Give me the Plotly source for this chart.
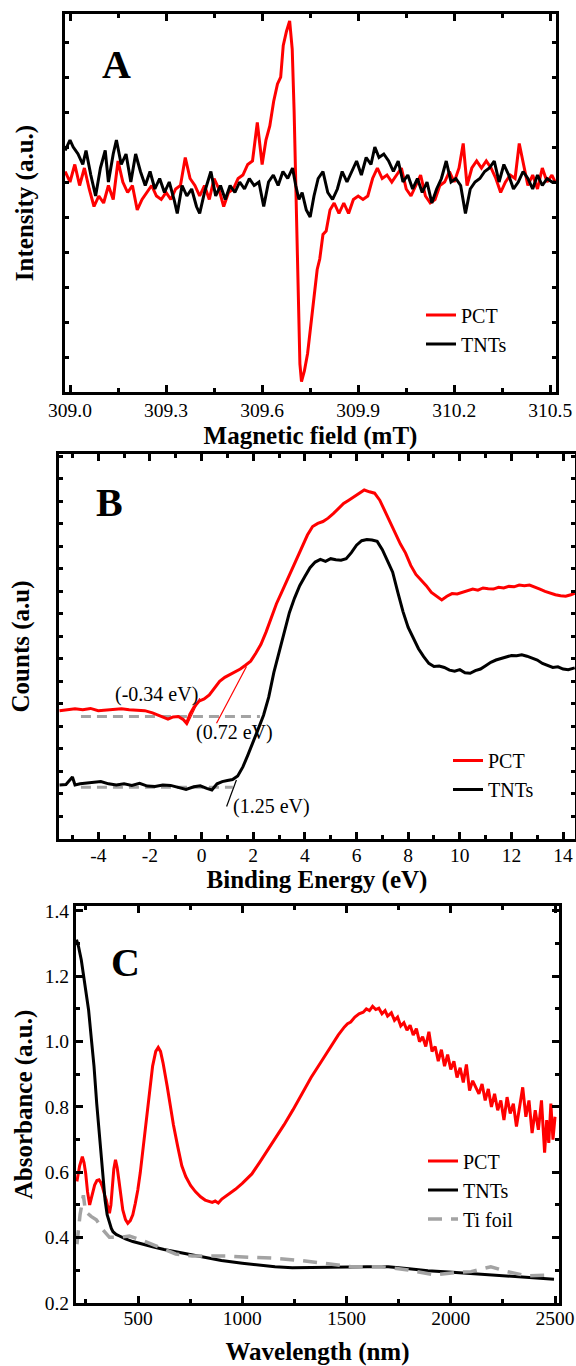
import plotly.graph_objects as go

# ---------------- Panel A : EPR ----------------
epr_pct_field = [308.985, 309.000, 309.015, 309.030, 309.045, 309.060, 309.075, 309.090, 309.105, 309.120,
                 309.135, 309.150, 309.165, 309.180, 309.195, 309.210, 309.225, 309.240, 309.255, 309.270,
                 309.285, 309.300, 309.315, 309.330, 309.345, 309.360, 309.375, 309.390, 309.405, 309.420,
                 309.435, 309.450, 309.465, 309.480, 309.495, 309.510, 309.525, 309.540, 309.555, 309.570,
                 309.585, 309.600, 309.612, 309.624, 309.636, 309.648, 309.658, 309.666, 309.676, 309.686,
                 309.694, 309.700, 309.706, 309.712, 309.718, 309.723, 309.732, 309.742, 309.752, 309.762,
                 309.772, 309.780, 309.790, 309.800, 309.812, 309.825, 309.840, 309.855, 309.870, 309.885,
                 309.900, 309.915, 309.930, 309.945, 309.960, 309.975, 309.990, 310.005, 310.020, 310.035,
                 310.050, 310.065, 310.080, 310.095, 310.110, 310.125, 310.140, 310.155, 310.170, 310.185,
                 310.200, 310.215, 310.228, 310.240, 310.255, 310.270, 310.285, 310.300, 310.315, 310.330,
                 310.345, 310.360, 310.375, 310.390, 310.403, 310.415, 310.430, 310.445, 310.460, 310.475,
                 310.490, 310.505, 310.515]
epr_pct_int = [6.3, 6.0, 6.5, 5.9, 6.4, 5.8, 5.3, 5.6, 5.4, 5.9,
               5.5, 6.6, 6.0, 5.7, 5.9, 5.2, 5.5, 5.7, 5.9, 5.6,
               5.5, 5.7, 5.5, 5.8, 5.9, 6.7, 6.1, 5.9, 5.6, 5.9,
               5.5, 6.1, 5.8, 5.3, 5.7, 5.8, 6.1, 6.2, 6.5, 6.6,
               7.7, 6.5, 7.2, 7.6, 8.3, 8.8, 9.0, 9.9, 10.3, 10.6,
               9.8, 8.0, 5.5, 2.5, 0.8, 0.3, 0.6, 1.1, 2.0, 2.7,
               3.5, 3.8, 4.5, 4.6, 5.2, 5.4, 5.1, 5.4, 5.1, 5.5,
               5.6, 5.5, 5.6, 6.1, 6.4, 6.1, 6.2, 6.0, 6.2, 6.4,
               5.8, 5.6, 5.9, 6.2, 5.6, 5.4, 5.5, 5.9, 6.0, 6.3,
               6.0, 6.4, 7.1, 5.9, 6.4, 6.6, 6.4, 6.6, 6.4, 6.1,
               5.7, 6.0, 6.2, 6.1, 7.1, 6.6, 5.9, 6.2, 5.8, 6.4,
               6.0, 6.2, 6.0]

epr_tnt_field = [308.985, 309.000, 309.010, 309.025, 309.040, 309.050, 309.065, 309.080, 309.095, 309.110,
                 309.120, 309.135, 309.145, 309.160, 309.175, 309.190, 309.205, 309.220, 309.235, 309.250,
                 309.265, 309.280, 309.295, 309.310, 309.325, 309.335, 309.350, 309.365, 309.380, 309.395,
                 309.405, 309.420, 309.440, 309.455, 309.470, 309.485, 309.500, 309.515, 309.530, 309.545,
                 309.560, 309.575, 309.590, 309.605, 309.620, 309.635, 309.650, 309.665, 309.680, 309.695,
                 309.705, 309.715, 309.725, 309.738, 309.750, 309.762, 309.775, 309.790, 309.805, 309.820,
                 309.835, 309.850, 309.865, 309.880, 309.895, 309.910, 309.925, 309.940, 309.952, 309.965,
                 309.980, 309.995, 310.010, 310.025, 310.040, 310.055, 310.070, 310.085, 310.100, 310.115,
                 310.130, 310.145, 310.160, 310.175, 310.190, 310.205, 310.220, 310.235, 310.250, 310.265,
                 310.280, 310.295, 310.310, 310.325, 310.340, 310.355, 310.370, 310.385, 310.400, 310.415,
                 310.430, 310.445, 310.460, 310.475, 310.490, 310.505, 310.515]
epr_tnt_int = [6.9, 7.2, 7.0, 6.8, 6.5, 6.9, 6.2, 5.6, 6.4, 6.9,
               6.0, 6.8, 7.2, 6.5, 6.8, 6.0, 6.8, 6.3, 5.9, 6.3,
               5.8, 6.1, 5.7, 6.0, 5.5, 5.1, 5.9, 5.6, 5.8, 5.3,
               5.1, 5.7, 6.3, 5.6, 5.9, 5.5, 5.9, 5.7, 6.0, 5.8,
               6.1, 5.9, 6.0, 5.3, 6.0, 6.2, 5.9, 6.3, 6.1, 6.4,
               5.9, 5.5, 5.7, 5.2, 5.0, 5.6, 6.1, 6.3, 5.7, 5.5,
               5.8, 6.3, 6.0, 6.3, 6.6, 6.2, 6.7, 6.5, 7.0, 6.7,
               6.8, 6.6, 6.3, 6.6, 6.0, 6.2, 5.8, 6.1, 5.7, 6.0,
               5.4, 5.8, 6.1, 6.6, 6.0, 6.1, 5.9, 5.1, 5.8, 6.0,
               6.1, 6.3, 6.4, 6.6, 6.0, 6.5, 6.2, 5.8, 6.0, 6.3,
               6.1, 5.8, 6.2, 5.9, 6.1, 6.0, 6.0]

# ---------------- Panel B : VB-XPS ----------------
xps_pct_be = [-5.5, -5.2, -4.9, -4.6, -4.3, -4.0, -3.7, -3.4, -3.1, -2.8, -2.5, -2.2, -1.9, -1.6, -1.3,
              -1.1, -0.9, -0.7, -0.58, -0.45, -0.3, -0.1, 0.1, 0.3, 0.5, 0.7, 0.9, 1.1, 1.3, 1.5, 1.7,
              1.9, 2.1, 2.3, 2.5, 2.7, 2.9, 3.1, 3.3, 3.5, 3.7, 3.9, 4.1, 4.3, 4.5, 4.7, 4.9, 5.1, 5.3,
              5.5, 5.7, 5.9, 6.1, 6.3, 6.5, 6.7, 6.9, 7.1, 7.3, 7.5, 7.7, 7.9, 8.1, 8.3, 8.5, 8.7, 8.9,
              9.1, 9.3, 9.5, 9.7, 9.9, 10.1, 10.3, 10.5, 10.7, 10.9, 11.1, 11.3, 11.5, 11.7, 11.9, 12.1,
              12.3, 12.5, 12.7, 12.9, 13.1, 13.3, 13.5, 13.7, 13.9, 14.1, 14.3, 14.45]
xps_pct_counts = [5.70, 5.75, 5.78, 5.74, 5.80, 5.70, 5.72, 5.75, 5.78, 5.74, 5.72, 5.70, 5.60, 5.46, 5.32,
                  5.42, 5.44, 5.30, 5.14, 5.55, 5.85, 6.12, 6.22, 6.40, 6.70, 7.00, 7.18, 7.30, 7.40, 7.55, 7.72,
                  7.90, 8.25, 8.65, 9.20, 9.85, 10.45, 10.95, 11.45, 11.95, 12.45, 13.00, 13.50, 13.88, 14.02, 14.10, 14.25, 14.45, 14.70,
                  14.90, 15.05, 15.20, 15.33, 15.50, 15.42, 15.36, 15.05, 14.55, 14.05, 13.55, 13.10, 12.70, 12.15, 11.75, 11.50, 11.25, 10.95,
                  10.80, 10.62, 10.78, 10.90, 10.88, 10.95, 11.05, 11.10, 11.05, 11.15, 11.12, 11.10, 11.18, 11.15, 11.22, 11.20,
                  11.28, 11.25, 11.28, 11.20, 11.10, 11.00, 10.92, 10.85, 10.80, 10.78, 10.85, 10.92]

xps_tnt_be = [-5.5, -5.25, -5.0, -4.9, -4.7, -4.4, -4.1, -3.9, -3.6, -3.3, -3.0, -2.7, -2.4, -2.1, -1.8,
              -1.5, -1.2, -0.9, -0.6, -0.3, -0.05, 0.2, 0.4, 0.6, 0.8, 1.0, 1.2, 1.4, 1.6, 1.8, 2.0,
              2.2, 2.4, 2.6, 2.8, 3.0, 3.2, 3.4, 3.6, 3.8, 4.0, 4.2, 4.4, 4.6, 4.8, 5.0, 5.2, 5.4,
              5.6, 5.8, 6.0, 6.2, 6.4, 6.6, 6.8, 7.0, 7.2, 7.4, 7.6, 7.8, 8.0, 8.2, 8.4, 8.6, 8.8,
              9.0, 9.2, 9.4, 9.6, 9.8, 10.0, 10.2, 10.4, 10.6, 10.8, 11.0, 11.2, 11.4, 11.6, 11.8,
              12.0, 12.2, 12.4, 12.6, 12.8, 13.0, 13.2, 13.4, 13.6, 13.8, 14.0, 14.2, 14.45]
xps_tnt_counts = [2.40, 2.42, 2.75, 2.40, 2.45, 2.48, 2.52, 2.55, 2.45, 2.40, 2.45, 2.38, 2.47, 2.35, 2.33,
                  2.40, 2.38, 2.30, 2.20, 2.32, 2.36, 2.25, 2.18, 2.45, 2.55, 2.60, 2.64, 2.80, 3.20, 3.75, 4.30,
                  4.90, 5.50, 6.30, 7.40, 8.25, 9.20, 10.05, 10.70, 11.25, 11.66, 12.05, 12.30, 12.42, 12.33, 12.45, 12.40, 12.38,
                  12.45, 12.72, 13.05, 13.25, 13.30, 13.28, 13.22, 12.85, 12.35, 11.85, 10.95, 10.10, 9.40, 8.90, 8.45, 8.10, 7.80,
                  7.66, 7.68, 7.62, 7.50, 7.45, 7.52, 7.38, 7.36, 7.48, 7.55, 7.70, 7.85, 7.95, 8.02, 8.10,
                  8.15, 8.14, 8.18, 8.12, 8.05, 7.95, 7.80, 7.70, 7.62, 7.65, 7.55, 7.52, 7.60]

# baselines and leading-edge tangents (eV, counts)
base_pct_be = [-4.67, 2.26]
base_pct_counts = [5.44, 5.44]
base_tnt_be = [-4.67, 1.21]
base_tnt_counts = [2.30, 2.30]
tan_pct1_be = [-0.56, -0.07]
tan_pct1_counts = [5.07, 6.25]
tan_pct2_be = [0.58, 1.74]
tan_pct2_counts = [5.14, 7.66]
tan_tnt_be = [0.97, 1.35]
tan_tnt_counts = [1.44, 2.62]

edge_labels = ["(-0.34 eV)", "(0.72 eV)", "(1.25 eV)"]
edge_label_be = [-1.74, 1.29, 2.72]
edge_label_counts = [6.40, 4.72, 1.44]

xps_tickvals = [-4, -2, 0, 2, 4, 6, 8, 10, 12, 14]
xps_ticktext = ["-4", "-2", "0", "2", "4", "6", "8", "10", "12", "14"]

# ---------------- Panel C : UV-Vis-NIR ----------------
uv_pct_wl = [207, 220, 233, 241, 249, 258, 268, 280, 292, 303, 313, 322, 329, 340, 348, 356, 363, 370, 376,
             384, 392, 400, 408, 418, 427, 440, 451, 463, 475, 487, 499, 511, 522, 540, 555, 570, 585, 597,
             608, 620, 640, 655, 670, 690, 710, 729, 752, 775, 800, 822, 840, 856, 870, 885, 902, 930, 967,
             1000, 1046, 1085, 1124, 1160, 1200, 1243, 1290, 1330, 1380, 1419, 1460, 1490, 1505, 1520, 1540,
             1560, 1580, 1595, 1610, 1625, 1640, 1655, 1670, 1685, 1697, 1715, 1730, 1745, 1760, 1775, 1790,
             1805, 1820, 1835, 1850, 1865, 1880, 1895, 1910, 1925, 1940, 1955, 1970, 1985, 2000, 2015, 2030,
             2045, 2060, 2075, 2090, 2105, 2120, 2135, 2150, 2165, 2180, 2195, 2210, 2225, 2240, 2255, 2270,
             2285, 2300, 2315, 2330, 2345, 2360, 2375, 2390, 2405, 2420, 2435, 2450, 2460, 2470, 2480, 2490, 2500]
uv_pct_abs = [0.572, 0.620, 0.648, 0.630, 0.597, 0.540, 0.500, 0.530, 0.561, 0.575, 0.577, 0.568, 0.556, 0.530, 0.515, 0.490, 0.475, 0.500, 0.546,
              0.610, 0.638, 0.615, 0.577, 0.520, 0.485, 0.455, 0.444, 0.452, 0.470, 0.505, 0.546, 0.600, 0.660, 0.760, 0.850, 0.925, 0.970, 0.982,
              0.970, 0.935, 0.863, 0.800, 0.745, 0.680, 0.620, 0.587, 0.560, 0.541, 0.525, 0.515, 0.510, 0.508, 0.512, 0.506, 0.518, 0.530, 0.548,
              0.566, 0.595, 0.632, 0.669, 0.705, 0.745, 0.791, 0.843, 0.890, 0.940, 0.980, 1.020, 1.045, 1.055, 1.060, 1.075,
              1.085, 1.090, 1.100, 1.095, 1.108, 1.098, 1.102, 1.085, 1.095, 1.078, 1.088, 1.065, 1.075, 1.048, 1.058, 1.035,
              1.050, 1.020, 1.040, 1.000, 1.015, 0.985, 1.030, 0.970, 0.985, 0.940, 0.975, 0.925, 0.960, 0.915, 0.940, 0.890,
              0.920, 0.875, 0.930, 0.850, 0.880, 0.860, 0.840, 0.870, 0.820, 0.855, 0.800, 0.840, 0.790, 0.820, 0.760, 0.830,
              0.780, 0.810, 0.740, 0.800, 0.860, 0.770, 0.820, 0.720, 0.790, 0.730, 0.820, 0.660, 0.760, 0.690, 0.810, 0.700, 0.770]

uv_tnt_wl = [205, 215, 228, 245, 263, 276, 289, 302, 316, 330, 342, 352, 363, 372, 380, 395, 411, 440, 475,
             520, 570, 625, 681, 720, 760, 800, 840, 900, 1000, 1080, 1157, 1240, 1316, 1400, 1510, 1600,
             1700, 1800, 1890, 1990, 2081, 2180, 2271, 2380, 2495]
uv_tnt_abs = [1.312, 1.290, 1.250, 1.180, 1.097, 1.010, 0.924, 0.810, 0.700, 0.600, 0.515, 0.470, 0.444, 0.428, 0.418, 0.410, 0.405, 0.396, 0.388,
              0.380, 0.372, 0.364, 0.357, 0.352, 0.347, 0.342, 0.337, 0.330, 0.322, 0.316, 0.311, 0.308, 0.308, 0.309, 0.310, 0.311,
              0.311, 0.305, 0.299, 0.295, 0.291, 0.287, 0.283, 0.278, 0.273]

uv_ti_wl = [207, 222, 238, 248, 275, 300, 332, 363, 411, 459, 522, 601, 681, 760, 840, 919, 1030, 1157, 1283,
            1395, 1525, 1668, 1795, 1922, 2017, 2097, 2192, 2271, 2367, 2486]
uv_ti_abs = [0.380, 0.470, 0.530, 0.480, 0.465, 0.455, 0.424, 0.401, 0.401, 0.405, 0.391, 0.372, 0.350, 0.344, 0.344, 0.344, 0.340, 0.337, 0.330,
             0.320, 0.311, 0.311, 0.301, 0.286, 0.293, 0.296, 0.311, 0.296, 0.283, 0.286]

# ---------------- styling ----------------
W, H = 576, 1366
FONT = "Liberation Serif, Times New Roman, serif"
RED, BLACK, GREY = "#ff0000", "#000000", "#a3a3a3"


def px_x(p):
    return p / W


def px_y(p):
    return 1 - p / H


fig = go.Figure()

# Panel A
fig.add_trace(go.Scatter(x=epr_pct_field, y=epr_pct_int, mode="lines", name="PCT",
                         line=dict(color=RED, width=3), xaxis="x", yaxis="y", legend="legend"))
fig.add_trace(go.Scatter(x=epr_tnt_field, y=epr_tnt_int, mode="lines", name="TNTs",
                         line=dict(color=BLACK, width=3), xaxis="x", yaxis="y", legend="legend"))

# Panel B
fig.add_trace(go.Scatter(x=base_pct_be, y=base_pct_counts, mode="lines", showlegend=False,
                         line=dict(color=GREY, width=3, dash="10px,6px"), xaxis="x2", yaxis="y2"))
fig.add_trace(go.Scatter(x=base_tnt_be, y=base_tnt_counts, mode="lines", showlegend=False,
                         line=dict(color=GREY, width=3, dash="10px,6px"), xaxis="x2", yaxis="y2"))
fig.add_trace(go.Scatter(x=xps_pct_be, y=xps_pct_counts, mode="lines", name="PCT",
                         line=dict(color=RED, width=3), xaxis="x2", yaxis="y2", legend="legend2"))
fig.add_trace(go.Scatter(x=xps_tnt_be, y=xps_tnt_counts, mode="lines", name="TNTs",
                         line=dict(color=BLACK, width=3), xaxis="x2", yaxis="y2", legend="legend2"))
fig.add_trace(go.Scatter(x=tan_pct1_be, y=tan_pct1_counts, mode="lines", showlegend=False,
                         line=dict(color=RED, width=1.2), xaxis="x2", yaxis="y2"))
fig.add_trace(go.Scatter(x=tan_pct2_be, y=tan_pct2_counts, mode="lines", showlegend=False,
                         line=dict(color=RED, width=1.2), xaxis="x2", yaxis="y2"))
fig.add_trace(go.Scatter(x=tan_tnt_be, y=tan_tnt_counts, mode="lines", showlegend=False,
                         line=dict(color=BLACK, width=1.2), xaxis="x2", yaxis="y2"))

# Panel C
fig.add_trace(go.Scatter(x=uv_pct_wl, y=uv_pct_abs, mode="lines", name="PCT",
                         line=dict(color=RED, width=3), xaxis="x3", yaxis="y3", legend="legend3"))
fig.add_trace(go.Scatter(x=uv_tnt_wl, y=uv_tnt_abs, mode="lines", name="TNTs",
                         line=dict(color=BLACK, width=3), xaxis="x3", yaxis="y3", legend="legend3"))
fig.add_trace(go.Scatter(x=uv_ti_wl, y=uv_ti_abs, mode="lines", name="Ti foil",
                         line=dict(color=GREY, width=3.5, dash="14px,9px"), xaxis="x3", yaxis="y3", legend="legend3"))

tickfont = dict(family=FONT, size=19.5, color="black")
titlefont = dict(family=FONT, size=25, color="black")
frame = dict(showline=True, linecolor="black", linewidth=3, mirror="ticks", automargin=False,
             ticks="inside", tickcolor="black", tickwidth=2.5, showgrid=False, zeroline=False,
             tickfont=tickfont, ticklabeloverflow="allow")
minor_style = dict(ticks="inside", ticklen=4, tickwidth=2.5, tickcolor="black", showgrid=False)
legend_font = dict(family=FONT, size=20, color="black")

fig.update_layout(
    template="none",
    width=W, height=H,
    margin=dict(l=0, r=0, t=0, b=0, pad=0),
    paper_bgcolor="white", plot_bgcolor="white",
    font=dict(family=FONT, size=20, color="black"),
    # ---- A
    xaxis=dict(frame, domain=[px_x(65), px_x(556)], anchor="y", range=[308.9844, 310.5178],
               tick0=309.0, dtick=0.3, tickformat=".1f", ticklen=7, ticklabelstandoff=-1,
               minor=dict(minor_style, dtick=0.15),
               title=dict(text="<b>Magnetic field (mT)</b>", font=titlefont, standoff=7)),
    yaxis=dict(frame, domain=[px_y(392), px_y(14)], anchor="x", range=[0, 10.8],
               tick0=0, dtick=1, ticklen=4, showticklabels=False,
               title=dict(text="<b>Intensity (a.u.)</b>", font=titlefont, standoff=22)),
    # ---- B
    xaxis2=dict(frame, domain=[px_x(59), px_x(575)], anchor="y2", range=[-5.52, 14.46],
                tickvals=xps_tickvals, ticktext=xps_ticktext, ticklen=7, ticklabelstandoff=-3,
                minor=dict(minor_style, dtick=1, tick0=0),
                title=dict(text="<b>Binding Energy (eV)</b>", font=titlefont, standoff=0)),
    yaxis2=dict(frame, domain=[px_y(839), px_y(454)], anchor="x2", range=[0, 17.1],
                tick0=0, dtick=1, ticklen=4, showticklabels=False,
                title=dict(text="<b>Counts (a.u)</b>", font=titlefont, standoff=20)),
    # ---- C
    xaxis3=dict(frame, domain=[px_x(76), px_x(559)], anchor="y3", range=[202.6, 2519],
                tick0=0, dtick=500, ticklen=7, ticklabelstandoff=-4,
                minor=dict(minor_style, dtick=250),
                title=dict(text="<b>Wavelength (nm)</b>", font=titlefont, standoff=17)),
    yaxis3=dict(frame, domain=[px_y(1303), px_y(906)], anchor="x3", range=[0.2, 1.415],
                tick0=0.2, dtick=0.2, tickformat=".1f", ticklen=7,
                minor=dict(minor_style, dtick=0.1),
                title=dict(text="<b>Absorbance (a.u.)</b>", font=titlefont, standoff=5)),
    legend=dict(x=px_x(421), y=px_y(329.5), xanchor="left", yanchor="middle",
                bgcolor="rgba(0,0,0,0)", font=legend_font, borderwidth=0),
    legend2=dict(x=px_x(448), y=px_y(775), xanchor="left", yanchor="middle",
                 bgcolor="rgba(0,0,0,0)", font=legend_font, borderwidth=0),
    legend3=dict(x=px_x(423), y=px_y(1190), xanchor="left", yanchor="middle",
                 bgcolor="rgba(0,0,0,0)", font=legend_font, borderwidth=0),
)

# panel letters
for letter, cx, cy in [("A", 116, 64), ("B", 109, 503), ("C", 125, 962)]:
    fig.add_annotation(text="<b>%s</b>" % letter, xref="paper", yref="paper",
                       x=px_x(cx), y=px_y(cy), xanchor="center", yanchor="middle",
                       showarrow=False, font=dict(family=FONT, size=40, color="black"))

# band-edge labels in panel B
for txt, bx, by in zip(edge_labels, edge_label_be, edge_label_counts):
    fig.add_annotation(text=txt, x=bx, y=by, xref="x2", yref="y2", showarrow=False,
                       xanchor="center", yanchor="middle",
                       font=dict(family=FONT, size=20, color="black"))

fig.write_html("out.html", config={"displayModeBar": False},
               post_script="document.body.style.margin='0';document.body.style.overflow='hidden';")
